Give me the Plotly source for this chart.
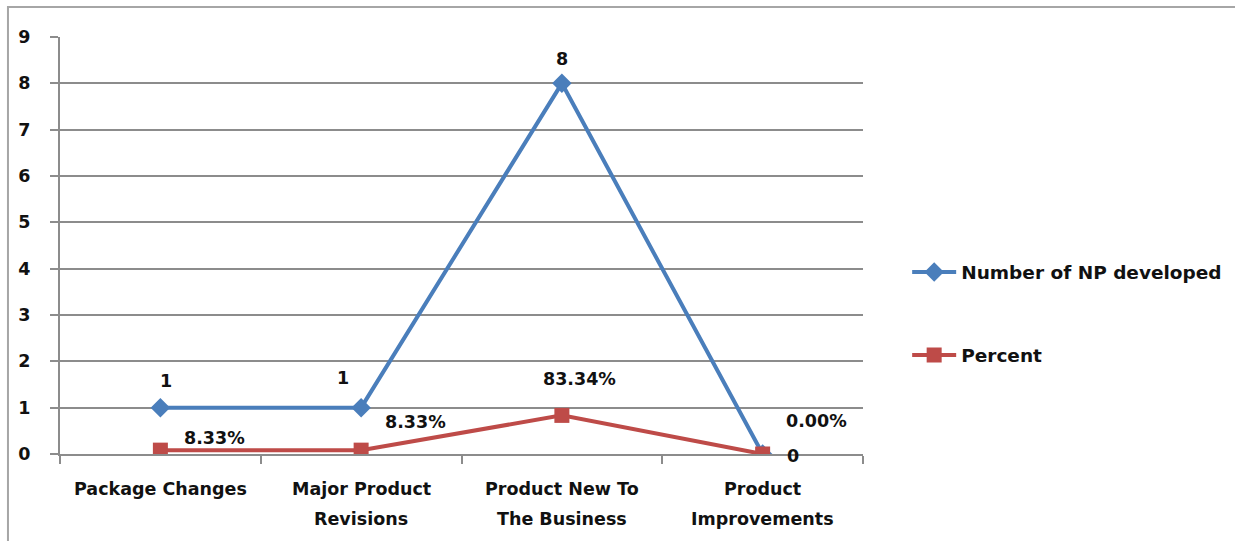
import plotly.graph_objects as go

categories = ["Package Changes", "Major Product<br>Revisions", "Product New To<br>The Business", "Product<br>Improvements"]
np_developed = [1, 1, 8, 0]
percent = [0.0833, 0.0833, 0.8334, 0.0]
percent_labels = ["8.33%", "8.33%", "83.34%", "0.00%"]
y_ticks = list(range(0, 10))

BLUE = "#4A7EBB"
RED = "#BE4B48"
FONT = "DejaVu Sans"
TXT = "#111"
FS = 17.5

fig = go.Figure()
fig.add_trace(go.Scatter(
    x=categories, y=np_developed, mode="lines+markers", name="Number of NP developed",
    line=dict(color=BLUE, width=4), marker=dict(symbol="diamond", size=15, color=BLUE),
    legendgroup="a"))
fig.add_trace(go.Scatter(
    x=categories, y=percent, mode="lines+markers", name="Percent",
    line=dict(color=RED, width=4), marker=dict(symbol="square", size=15, color=RED),
    legendgroup="b"))

# data labels
np_offsets = [(6, 27), (-18, 30), (0, 24), (30, -2)]
for c, v, (dx, dy) in zip(categories, np_developed, np_offsets):
    fig.add_annotation(x=c, y=v, text=str(v), showarrow=False, xshift=dx, yshift=dy,
                       font=dict(family=FONT, size=FS, color=TXT, weight="bold"))
pct_offsets = [(54, 12), (54, 28), (18, 36), (54, 33)]
for c, v, t, (dx, dy) in zip(categories, percent, percent_labels, pct_offsets):
    fig.add_annotation(x=c, y=v, text=t, showarrow=False, xshift=dx, yshift=dy,
                       font=dict(family=FONT, size=FS, color=TXT, weight="bold"))

# category labels, one annotation per line for Excel-like line spacing
for c in categories:
    for i, line in enumerate(c.split("<br>")):
        fig.add_annotation(x=c, y=0, yref="paper", text=line, showarrow=False,
                           yshift=-35 - 30 * i, yanchor="middle",
                           font=dict(family=FONT, size=FS, color=TXT, weight="bold"))

# outer chart border (top and left visible)
fig.add_shape(type="rect", xref="paper", yref="paper",
              x0=-0.0648, x1=1.6, y0=-0.6, y1=1.072,
              line=dict(color="#A6A6A6", width=2), fillcolor="rgba(0,0,0,0)", layer="below")

fig.update_layout(
    width=1235, height=541,
    margin=dict(l=60, r=372, t=37, b=87, autoexpand=False),
    paper_bgcolor="white", plot_bgcolor="white",
    font=dict(family=FONT, size=FS, color=TXT, weight="bold"),
    showlegend=True,
    legend=dict(x=1.055, y=0.336, xanchor="left", yanchor="middle",
                font=dict(family=FONT, size=18.5, color=TXT, weight="bold"),
                tracegroupgap=56, itemwidth=44, bgcolor="rgba(0,0,0,0)"),
    xaxis=dict(type="category", range=[-0.5, 3.5], showgrid=False,
               showline=True, linecolor="#8C8C8C", linewidth=2,
               ticks="outside", tickson="boundaries", ticklen=8, tickcolor="#8C8C8C", tickwidth=2,
               showticklabels=False),
    yaxis=dict(range=[0, 9], tickvals=y_ticks, showgrid=True, gridcolor="#8C8C8C", gridwidth=1.5,
               showline=True, linecolor="#8C8C8C", linewidth=2, zeroline=False,
               ticks="outside", ticklen=8, tickcolor="#8C8C8C", tickwidth=2,
               ticklabelstandoff=16,
               tickfont=dict(family=FONT, size=FS, color=TXT, weight="bold")),
)

fig.write_html("out.html")
